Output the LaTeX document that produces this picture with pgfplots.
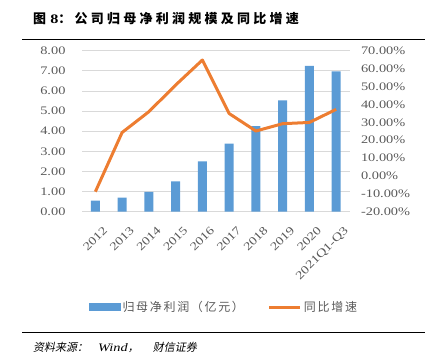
\documentclass[border=0pt]{standalone}
\usepackage{fontspec}
\usepackage{pgfplots}
\usepackage{pgfplotstable}
\pgfplotsset{compat=1.18}
\setmainfont{Liberation Serif}[FakeStretch=1.25]
\newfontfamily\cjk{Noto Sans CJK SC}
\newfontfamily\cjkl{Noto Sans CJK SC}[LetterSpace=14]
\newfontfamily\cjkt{Noto Sans CJK SC}[LetterSpace=25]
\newfontfamily\cjkit{Noto Sans CJK SC}[FakeSlant=0.2]
\definecolor{barblue}{RGB}{91,155,213}
\definecolor{lineorange}{RGB}{237,125,49}
\definecolor{gridgray}{RGB}{217,217,217}
\definecolor{txtgray}{RGB}{89,89,89}

\pgfplotstableread{
x val pct
0 0.55 -8.8
1 0.70 24.3
2 0.98 35.9
3 1.51 50.8
4 2.50 64.8
5 3.38 34.9
6 4.25 25.1
7 5.53 29.2
8 7.24 29.9
9 6.97 37.2
}\data

\begin{document}
\begin{tikzpicture}[x=1pt,y=1pt]
\useasboundingbox (0,0) rectangle (431,360);
% title
\node[anchor=west, inner sep=0pt] at (33,341.5) {\fontsize{13}{13}\selectfont{\cjkt\bfseries 图} {\bfseries 8}{\cjkt\bfseries ：公司归母净利润规模及同比增速}};
\draw[black, line width=0.8pt] (22,321) -- (425,321);
\draw[black, line width=0.8pt] (22,28) -- (425,28);
\node[anchor=west, inner sep=0pt] at (33,13) {\fontsize{11}{11}\selectfont{\cjkit 资料来源：}\hspace{10pt}{\fontsize{11.5}{11.5}\selectfont\textit{Wind}}{\cjkit ，}\hspace{14pt}{\cjkit 财信证券}};

\begin{axis}[
  at={(82pt,148.3pt)}, anchor=south west, scale only axis,
  width=267.5pt, height=161pt,
  xmin=-0.5, xmax=9.5, ymin=0, ymax=8,
  axis line style={draw=none},
  ytick={0,1,...,8},
  ymajorgrids, grid style={gridgray, line width=0.8pt},
  major tick length=0pt,
  xtick={0,...,9},
  xticklabels={2012,2013,2014,2015,2016,2017,2018,2019,2020,2021Q1-Q3},
  x tick label style={rotate=45, anchor=north east, font=\fontsize{11.5}{11.5}\selectfont, text=txtgray, inner sep=1pt, yshift=-14pt, xshift=-4pt},
  y tick label style={font=\fontsize{11.5}{11.5}\selectfont, text=txtgray, xshift=-13pt},
  /pgf/number format/.cd, fixed, fixed zerofill, precision=2, assume math mode=true,
]
\addplot[ybar, bar width=9pt, fill=barblue, draw=none] table[x=x, y=val]{\data};
\end{axis}

\begin{axis}[
  at={(82pt,148.3pt)}, anchor=south west, scale only axis,
  width=267.5pt, height=161pt,
  xmin=-0.5, xmax=9.5, ymin=-20, ymax=70,
  axis y line*=right, axis line style={draw=none},
  hide x axis,
  ytick={-20,-10,...,70},
  major tick length=0pt,
  yticklabel={\pgfmathprintnumber[fixed,fixed zerofill,precision=2,assume math mode=true]{\tick}\%},
  y tick label style={font=\fontsize{11.5}{11.5}\selectfont, text=txtgray, xshift=8pt},
  legend columns=2,
  legend style={at={(0.026,-0.592)}, anchor=west, draw=none, fill=none, inner sep=0pt,
    font=\fontsize{12}{12}\selectfont, text=txtgray,
    /tikz/every even column/.append style={column sep=22pt}},
]
\addlegendimage{legend image code/.code={\fill[barblue] (0pt,-3.5pt) rectangle (31pt,3.5pt);}}
\addlegendentry{\cjkl 归母净利润（亿元）}
\addplot[lineorange, line width=3pt, line join=round, mark=none,
  legend image code/.code={\draw[lineorange, line width=3pt] (0pt,0pt) -- (31pt,0pt);}]
  table[x=x, y=pct]{\data};
\addlegendentry{\cjkl 同比增速}
\end{axis}
\end{tikzpicture}
\end{document}
